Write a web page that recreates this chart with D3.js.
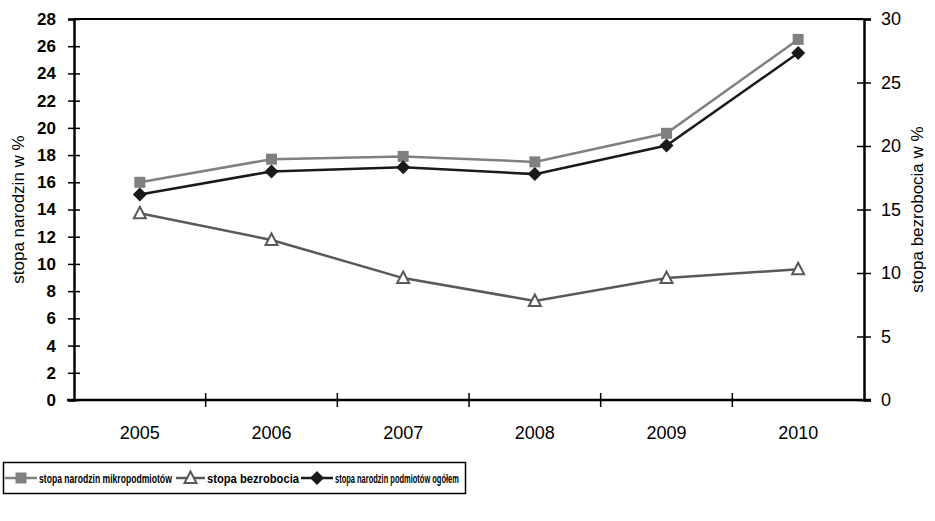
<!DOCTYPE html>
<html>
<head>
<meta charset="utf-8">
<script src="https://cdn.jsdelivr.net/npm/d3@7"></script>
<style>
  html, body { margin: 0; padding: 0; background: #fff; }
  svg { display: block; }
  text { font-family: "Liberation Sans", Arial, sans-serif; fill: #000; }
</style>
</head>
<body>
<svg id="chart" width="935" height="521"></svg>
<script>
// Years on the category axis
const years = ["2005", "2006", "2007", "2008", "2009", "2010"];
// Birth rate of micro-enterprises (left axis, %)
const microBirths = [16.0, 17.7, 17.9, 17.5, 19.6, 26.5];
// Birth rate of all enterprises (left axis, %)
const allBirths = [15.1, 16.8, 17.1, 16.6, 18.7, 25.5];
// Unemployment rate (right axis, %)
const unemployment = [14.7, 12.6, 9.6, 7.8, 9.6, 10.3];
// Tick labels
const leftTicks = [0, 2, 4, 6, 8, 10, 12, 14, 16, 18, 20, 22, 24, 26, 28];
const rightTicks = [0, 5, 10, 15, 20, 25, 30];

const svg = d3.select("#chart");
const plot = { left: 74, right: 864, top: 19, bottom: 400 };

const x = d3.scaleBand().domain(years).range([plot.left, plot.right]);
const yL = d3.scaleLinear().domain([0, 28]).range([plot.bottom, plot.top]);
const yR = d3.scaleLinear().domain([0, 30]).range([plot.bottom, plot.top]);
const cx = d => x(d) + x.bandwidth() / 2;

// Plot frame (top edge; other edges are axes)
svg.append("line")
  .attr("x1", plot.left).attr("x2", plot.right)
  .attr("y1", plot.top).attr("y2", plot.top)
  .attr("stroke", "#000").attr("stroke-width", 2);

// Left axis
const gL = svg.append("g").attr("transform", `translate(${plot.left},0)`)
  .call(d3.axisLeft(yL).tickValues(leftTicks).tickSize(6).tickPadding(12));
gL.selectAll(".tick line").attr("x2", 6).attr("x1", -6);
gL.selectAll(".tick text").style("font-size", "17px").style("font-weight", "bold");

// Right axis
const gR = svg.append("g").attr("transform", `translate(${plot.right},0)`)
  .call(d3.axisRight(yR).tickValues(rightTicks).tickSize(7).tickPadding(10));
gR.selectAll(".tick line").attr("x1", -7).attr("x2", 7);
gR.selectAll(".tick text").style("font-size", "18px");

// Bottom axis: ticks at category boundaries
const gB = svg.append("g").attr("transform", `translate(0,${plot.bottom})`)
  .call(d3.axisBottom(x).tickSize(0).tickPadding(26));
gB.selectAll(".tick text").style("font-size", "18px");
const boundaries = years.map(d => x(d)).slice(1);
gB.selectAll(".sep").data(boundaries).enter().append("line")
  .attr("class", "sep")
  .attr("x1", d => d).attr("x2", d => d)
  .attr("y1", -7).attr("y2", 7)
  .attr("stroke", "#000").attr("stroke-width", 1.5);

[gL, gR, gB].forEach(g => {
  g.select(".domain").attr("stroke", "#000").attr("stroke-width", 2.5);
  g.selectAll(".tick line").attr("stroke", "#000").attr("stroke-width", 1.5);
  g.selectAll("text").attr("fill", "#000");
});
gB.select(".domain").attr("d", `M${plot.left - 7},0H${plot.right + 7}`);

// Axis titles
svg.append("text")
  .attr("transform", `translate(24,${(plot.top + plot.bottom) / 2}) rotate(-90)`)
  .attr("text-anchor", "middle")
  .style("font-size", "17px")
  .text("stopa narodzin w %");
svg.append("text")
  .attr("transform", `translate(923,${(plot.top + plot.bottom) / 2}) rotate(-90)`)
  .attr("text-anchor", "middle")
  .style("font-size", "17px")
  .text("stopa bezrobocia w %");

// Series definitions
const series = [
  { name: "stopa narodzin mikropodmiotów", values: microBirths, y: yL, color: "#808080", marker: "square" },
  { name: "stopa bezrobocia", values: unemployment, y: yR, color: "#595959", marker: "triangle" },
  { name: "stopa narodzin podmiotów ogółem", values: allBirths, y: yL, color: "#1a1a1a", marker: "diamond" }
];

function drawMarker(g, type, color) {
  if (type === "square") {
    g.append("rect").attr("x", -5.5).attr("y", -5.5).attr("width", 11).attr("height", 11)
      .attr("fill", color);
  } else if (type === "diamond") {
    g.append("path").attr("d", "M0,-7L7,0L0,7L-7,0Z").attr("fill", color);
  } else {
    g.append("path").attr("d", "M0,-6.5L6,5L-6,5Z")
      .attr("fill", "#fff").attr("stroke", color).attr("stroke-width", 2)
      .attr("stroke-linejoin", "miter");
  }
}

series.forEach(s => {
  const line = d3.line().x((v, i) => cx(years[i])).y(v => s.y(v));
  svg.append("path").datum(s.values)
    .attr("d", line)
    .attr("fill", "none").attr("stroke", s.color).attr("stroke-width", 2.5);
  s.values.forEach((v, i) => {
    const g = svg.append("g").attr("transform", `translate(${cx(years[i])},${s.y(v)})`);
    drawMarker(g, s.marker, s.color);
  });
});

// Legend: condensed bold labels fitted to each slot
const legend = svg.append("g");
legend.append("rect").attr("x", 3.5).attr("y", 462.5).attr("width", 462).attr("height", 31)
  .attr("fill", "#fff").attr("stroke", "#000").attr("stroke-width", 1.5);
const legendPos = [
  { x0: 5, x1: 37, text: 39, w: 133 },
  { x0: 176, x1: 205, text: 207, w: 92 },
  { x0: 301, x1: 333, text: 335, w: 124 }
];
series.forEach((s, i) => {
  const p = legendPos[i];
  const cy = 478;
  legend.append("line").attr("x1", p.x0).attr("x2", p.x1).attr("y1", cy).attr("y2", cy)
    .attr("stroke", s.color).attr("stroke-width", 2.5);
  const g = legend.append("g").attr("transform", `translate(${(p.x0 + p.x1) / 2},${cy})`);
  drawMarker(g, s.marker, s.color);
  const tg = legend.append("g");
  const t = tg.append("text").attr("x", 0).attr("y", 0)
    .style("font-size", "12.5px").style("font-weight", "bold")
    .text(s.name);
  const k = p.w / t.node().getComputedTextLength();
  tg.attr("transform", `translate(${p.text},${cy + 4.5}) scale(${k},1)`);
});
</script>
</body>
</html>
